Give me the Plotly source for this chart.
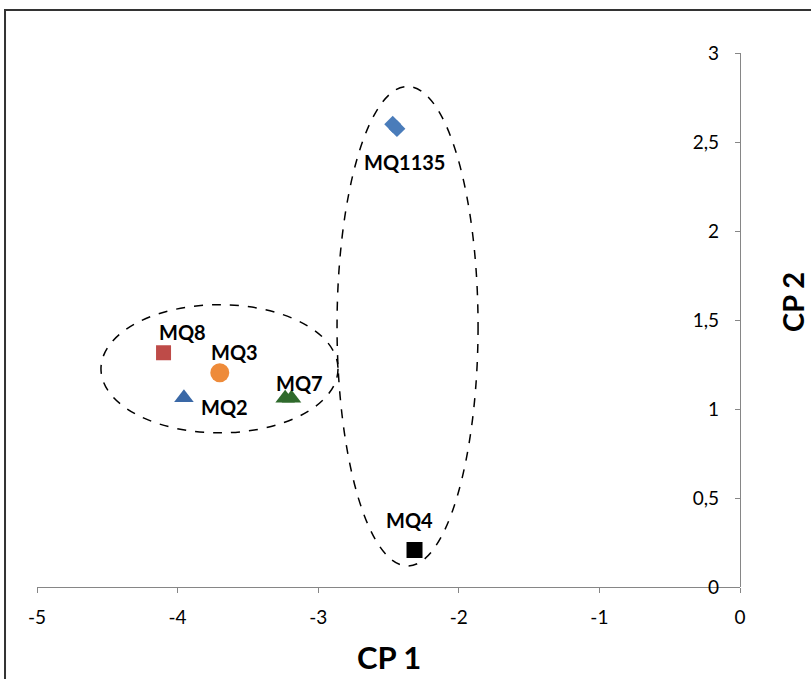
import plotly.graph_objects as go

# Principal component scores of each sensor
sensors = ["MQ1135", "MQ1135", "MQ8", "MQ3", "MQ2", "MQ7", "MQ7", "MQ4"]
cp1 = [-2.47, -2.44, -4.10, -3.70, -3.955, -3.235, -3.19, -2.315]
cp2 = [2.60, 2.575, 1.316, 1.204, 1.063, 1.06, 1.06, 0.208]

# Label text per sensor (one per group)
label_names = ["MQ1135", "MQ8", "MQ3", "MQ2", "MQ7", "MQ4"]
label_x = [-2.468, -4.10, -3.70, -3.955, -3.21, -2.315]
label_y = [2.587, 1.316, 1.204, 1.063, 1.06, 0.208]

x_ticks = [-5, -4, -3, -2, -1, 0]
y_ticks = [0, 0.5, 1, 1.5, 2, 2.5, 3]
y_tick_text = ["0", "0,5", "1", "1,5", "2", "2,5", "3"]

# Cluster outlines (ellipse bounding boxes in CP units)
clusters = [
    dict(x0=-2.866, x1=-1.863, y0=0.118, y1=2.812),
    dict(x0=-4.545, x1=-2.859, y0=0.866, y1=1.586),
]

styles = {
    "MQ1135": dict(symbol="diamond", color="#4A7CBA", size=13),
    "MQ8": dict(symbol="square", color="#BE4B48", size=15),
    "MQ3": dict(symbol="circle", color="#EE8B3A", size=19),
    "MQ2": dict(symbol="triangle-up", color="#3A68A6", size=17),
    "MQ7": dict(symbol="triangle-up", color="#2F6A2C", size=17),
    "MQ4": dict(symbol="square", color="#000000", size=16),
}
label_shift = {
    "MQ1135": (11, -35), "MQ8": (19, 21), "MQ3": (15, 21),
    "MQ2": (41, -9), "MQ7": (11, 15), "MQ4": (-5, 30),
}

FONT = "Lato, Carlito, Calibri, sans-serif"

fig = go.Figure()
for name in label_names:
    xs = [x for s, x in zip(sensors, cp1) if s == name]
    ys = [y for s, y in zip(sensors, cp2) if s == name]
    st = styles[name]
    fig.add_trace(go.Scatter(
        x=xs, y=ys, mode="markers", name=name, showlegend=False,
        marker=dict(symbol=st["symbol"], color=st["color"], size=st["size"],
                    line=dict(width=0)),
    ))

for name, lx, ly in zip(label_names, label_x, label_y):
    dx, dy = label_shift[name]
    fig.add_annotation(
        x=lx, y=ly, text=f"<b>{name}</b>", showarrow=False,
        xshift=dx, yshift=dy, xanchor="center", yanchor="middle",
        font=dict(family=FONT, size=20, color="#000000"),
    )

for c in clusters:
    fig.add_shape(type="circle", xref="x", yref="y", **c,
                  line=dict(color="#000000", width=1.5, dash="dash"))

# Outer frame around the chart
fig.add_shape(type="rect", xref="paper", yref="paper",
              x0=-0.0455, x1=1.12, y0=-0.2, y1=1.0805,
              line=dict(color="#333333", width=2), layer="above")

# Axis titles
fig.add_annotation(text="<b>CP 1</b>", xref="paper", yref="paper",
                   x=(389 - 37) / 703, y=-(657 - 587) / 534, showarrow=False,
                   xanchor="center", yanchor="middle",
                   font=dict(family=FONT, size=31, color="#000000"))
fig.add_annotation(text="<b>CP 2</b>", xref="paper", yref="paper",
                   x=(792 - 37) / 703, y=(587 - 302) / 534, showarrow=False,
                   xanchor="center", yanchor="middle", textangle=-90,
                   font=dict(family=FONT, size=29, color="#000000"))

fig.update_layout(
    width=811, height=679,
    margin=dict(l=37, r=71, t=53, b=92),
    paper_bgcolor="white", plot_bgcolor="white",
    font=dict(family=FONT, size=19, color="#000000"),
    xaxis=dict(range=[-5, 0], tickvals=x_ticks, ticktext=[str(v) for v in x_ticks],
               showgrid=False, zeroline=False, showline=True,
               linecolor="#868686", linewidth=1.3, ticks="outside",
               ticklen=5, tickcolor="#868686", ticklabelstandoff=8,
               ticklabeloverflow="allow"),
    # value axis drawn at CP 1 = 0, i.e. the right edge of the plot area
    yaxis=dict(range=[0, 3], tickvals=y_ticks, ticktext=y_tick_text,
               anchor="free", position=1.0, side="left",
               ticks="outside", ticklen=5, tickcolor="#868686",
               ticklabelstandoff=12, ticklabeloverflow="allow",
               showgrid=False, zeroline=False, showline=True,
               linecolor="#868686", linewidth=1.3),
)

fig.write_html("out.html")
